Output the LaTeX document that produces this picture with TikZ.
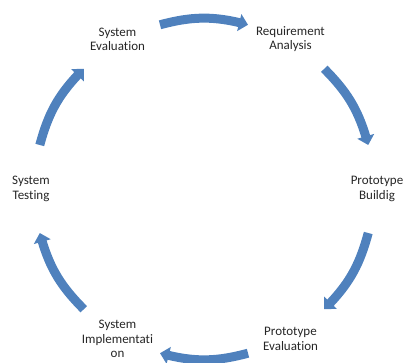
\documentclass[tikz,border=0pt]{standalone}
\usepackage{xcolor}
\usepackage{fontspec}
\setmainfont{Carlito}[Ligatures={NoCommon,NoRare,NoDiscretionary}, Contextuals=NoAlternate]
\usepackage{tikz}
\usetikzlibrary{arrows.meta, bending}
\definecolor{cycleblue}{RGB}{79,129,189}

\begin{document}
\begin{tikzpicture}[x=1pt, y=1pt,
  phase/.style={align=center, text=black!85, font=\fontsize{13}{14.5}\selectfont},
  cyclearrow/.style={draw=cycleblue, line width=9pt, -{Triangle[width=17pt, length=9pt]}}]
\useasboundingbox (0,0) rectangle (403,362);
\coordinate (M) at (204,173);
\node[phase] (RA) at ([shift={(60:173)}]M) {Requirement\\Analysis};
\node[phase] (PB) at ([shift={(0:173)}]M) {Prototype\\Buildig};
\node[phase] (PE) at ([shift={(-60:173)}]M) {Prototype\\Evaluation};
\node[phase] (SI) at ([shift={(-120:173)}]M) {System\\Implementati\\on};
\node[phase] (ST) at ([shift={(180:173)}]M) {System\\Testing};
\node[phase] (SE) at ([shift={(120:173)}]M) {System\\Evaluation};
% arrow ends on the ring
\coordinate (SEa) at ([shift={(105:170)}]M);
\coordinate (RAa) at ([shift={(75:170)}]M);
\coordinate (RAb) at ([shift={(45:170)}]M);
\coordinate (PBa) at ([shift={(15:170)}]M);
\coordinate (PBb) at ([shift={(-15:170)}]M);
\coordinate (PEa) at ([shift={(-45:170)}]M);
\coordinate (PEb) at ([shift={(-75:170)}]M);
\coordinate (SIa) at ([shift={(-105:170)}]M);
\coordinate (SIb) at ([shift={(-135:170)}]M);
\coordinate (STa) at ([shift={(-165:170)}]M);
\coordinate (STb) at ([shift={(165:170)}]M);
\coordinate (SEb) at ([shift={(135:170)}]M);
\draw[cyclearrow] (SEa) to[bend left=15] (RAa);
\draw[cyclearrow] (RAb) to[bend left=15] (PBa);
\draw[cyclearrow] (PBb) to[bend left=15] (PEa);
\draw[cyclearrow] (PEb) to[bend left=15] (SIa);
\draw[cyclearrow] (SIb) to[bend left=15] (STa);
\draw[cyclearrow] (STb) to[bend left=15] (SEb);
\end{tikzpicture}
\end{document}
